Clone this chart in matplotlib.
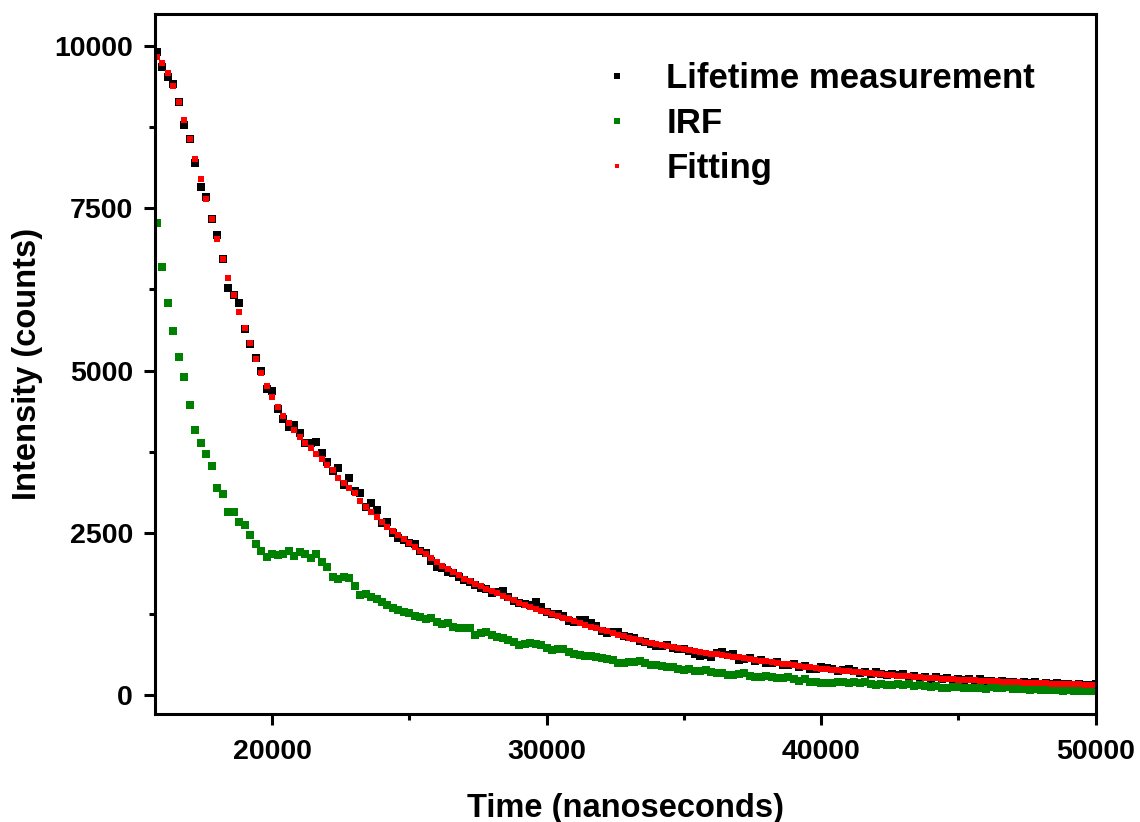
import numpy as np
import matplotlib
matplotlib.use('Agg')
import matplotlib.pyplot as plt
from matplotlib.ticker import MultipleLocator

# time axis (ns), one bin every 200 ns
time_ns = np.arange(15800, 50001, 200)

lifetime = [
    9902, 9671, 9517, 9409, 9132, 8778, 8562, 8193, 7823, 7669,
    7330, 7084, 6714, 6268, 6160, 6037, 5636, 5405, 5190, 4990,
    4712, 4682, 4404, 4250, 4127, 4158, 4035, 3881, 3881, 3896,
    3727, 3588, 3450, 3496, 3234, 3342, 3142, 3111, 2895, 2957,
    2849, 2649, 2664, 2495, 2418, 2387, 2341, 2325, 2218, 2187,
    2064, 1971, 1965, 1905, 1880, 1830, 1775, 1750, 1700, 1650,
    1640, 1585, 1600, 1605, 1520, 1455, 1425, 1405, 1400, 1440,
    1355, 1290, 1255, 1255, 1220, 1150, 1125, 1155, 1160, 1120,
    1065, 1000, 965, 970, 975, 920, 895, 890, 835, 820,
    790, 768, 766, 775, 734, 708, 722, 683, 645, 612,
    629, 596, 654, 672, 620, 638, 546, 564, 582, 535,
    548, 506, 504, 517, 470, 468, 482, 441, 455, 414,
    414, 434, 430, 406, 377, 393, 400, 372, 344, 361,
    334, 362, 335, 308, 336, 315, 324, 288, 302, 271,
    280, 260, 280, 255, 265, 240, 260, 235, 246, 222,
    248, 219, 230, 206, 227, 203, 215, 192, 214, 191,
    203, 180, 192, 174, 191, 173, 180, 162, 179, 161,
    168, 170,
]

irf = [
    7269, 6591, 6037, 5606, 5205, 4897, 4466, 4081, 3881, 3711,
    3527, 3188, 3095, 2818, 2818, 2664, 2618, 2464, 2325, 2218,
    2125, 2171, 2156, 2171, 2218, 2141, 2202, 2171, 2110, 2171,
    2048, 1971, 1817, 1786, 1817, 1802, 1679, 1540, 1555, 1509,
    1478, 1440, 1400, 1350, 1309, 1280, 1263, 1230, 1201, 1180,
    1186, 1124, 1093, 1109, 1047, 1032, 1040, 1032, 924, 960,
    970, 924, 893, 878, 847, 820, 770, 790, 801, 785,
    770, 724, 693, 708, 708, 662, 631, 616, 600, 600,
    585, 570, 560, 540, 500, 493, 510, 508, 530, 500,
    470, 462, 455, 431, 440, 400, 385, 400, 380, 370,
    385, 355, 339, 345, 320, 308, 325, 339, 300, 290,
    280, 300, 285, 262, 270, 277, 250, 230, 246, 215,
    200, 185, 190, 185, 200, 205, 190, 200, 195, 200,
    180, 165, 170, 154, 160, 175, 165, 170, 150, 155,
    140, 135, 145, 110, 115, 125, 130, 115, 110, 120,
    108, 105, 123, 110, 120, 123, 100, 105, 95, 90,
    100, 85, 80, 90, 85, 75, 80, 70, 75, 65,
    70, 62,
]

fitting = [
    9825, 9733, 9579, 9379, 9132, 8855, 8562, 8254, 7946, 7638,
    7330, 7022, 6714, 6422, 6160, 5898, 5652, 5421, 5174, 4959,
    4759, 4589, 4435, 4297, 4189, 4081, 3973, 3881, 3804, 3711,
    3634, 3542, 3465, 3342, 3265, 3188, 3111, 2988, 2895, 2818,
    2741, 2664, 2587, 2526, 2464, 2402, 2341, 2279, 2218, 2171,
    2110, 2048, 1995, 1945, 1895, 1850, 1800, 1760, 1720, 1680,
    1645, 1605, 1570, 1535, 1500, 1465, 1430, 1395, 1360, 1330,
    1305, 1280, 1250, 1225, 1200, 1170, 1145, 1115, 1090, 1060,
    1035, 1010, 985, 960, 935, 910, 890, 870, 850, 830,
    810, 793, 776, 760, 744, 728, 712, 698, 685, 672,
    659, 646, 634, 622, 610, 598, 586, 574, 562, 550,
    538, 526, 514, 502, 490, 478, 467, 456, 445, 434,
    424, 414, 405, 396, 387, 378, 370, 362, 354, 346,
    339, 332, 325, 318, 311, 305, 299, 293, 287, 281,
    275, 270, 265, 260, 255, 250, 245, 240, 236, 232,
    228, 224, 220, 216, 212, 208, 205, 202, 199, 196,
    193, 190, 187, 184, 181, 178, 175, 172, 169, 166,
    163, 160,
]

plt.rcParams['font.family'] = ['Liberation Sans', 'DejaVu Sans']
plt.rcParams['font.weight'] = 'bold'

fig = plt.figure(figsize=(11.4, 8.22), dpi=100)
ax = fig.add_axes([0.136, 0.131, 0.825, 0.852])

ax.plot(time_ns, lifetime, 's', color='black', markersize=5.4, markeredgewidth=0,
        label='Lifetime measurement')
ax.plot(time_ns, irf, 's', color='#008000', markersize=5.4, markeredgewidth=0,
        label='IRF')
ax.plot(time_ns, fitting, 's', color='red', markersize=3.7, markeredgewidth=0,
        label='Fitting')

ax.set_xlim(15730, 50000)
ax.set_ylim(-290, 10490)
ax.xaxis.set_major_locator(MultipleLocator(10000))
ax.xaxis.set_minor_locator(MultipleLocator(5000))
ax.yaxis.set_major_locator(MultipleLocator(2500))
ax.yaxis.set_minor_locator(MultipleLocator(1250))

for sp in ax.spines.values():
    sp.set_linewidth(2.2)
ax.tick_params(which='major', direction='out', length=8, width=2.2,
               labelsize=20.5, pad=8)
ax.tick_params(which='minor', direction='out', length=4.5, width=2.2)
ax.tick_params(axis='x', which='major', pad=10)
for lab in ax.get_xticklabels() + ax.get_yticklabels():
    lab.set_fontweight('bold')

ax.set_xlabel('Time (nanoseconds)', fontsize=23.5, fontweight='bold', labelpad=20)
ax.set_ylabel('Intensity (counts)', fontsize=23.5, fontweight='bold', labelpad=8)

leg = ax.legend(loc='upper left', bbox_to_anchor=(0.44, 0.976), frameon=False,
                fontsize=25, markerscale=0.7, handlelength=1.0,
                handletextpad=0.91, labelspacing=0.35)
for t in leg.get_texts():
    t.set_fontweight('bold')

plt.savefig('out.png', dpi=100)
